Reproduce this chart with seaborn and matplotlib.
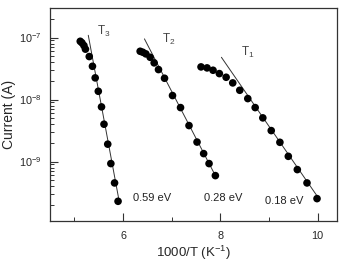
import matplotlib
matplotlib.use('Agg')
import matplotlib.pyplot as plt
import numpy as np
import pandas as pd
import seaborn as sns
from matplotlib.ticker import LogLocator, NullFormatter, FixedLocator

#%% data (x = 1000/T, y = log10 of current)
t3_x = [5.12, 5.155, 5.196, 5.227, 5.305, 5.371, 5.427, 5.491, 5.557, 5.608, 5.685, 5.749, 5.825, 5.897]
t3_logy = [-7.060, -7.085, -7.129, -7.187, -7.306, -7.463, -7.650, -7.866, -8.118, -8.397, -8.719, -9.032, -9.344, -9.640]

t2_x = [6.351, 6.406, 6.468, 6.557, 6.639, 6.728, 6.852, 7.016, 7.181, 7.355, 7.520, 7.656, 7.767, 7.897]
t2_logy = [-7.221, -7.237, -7.263, -7.318, -7.408, -7.516, -7.656, -7.935, -8.129, -8.419, -8.685, -8.871, -9.032, -9.226]

t1_x = [7.602, 7.726, 7.849, 7.979, 8.118, 8.254, 8.398, 8.563, 8.715, 8.872, 9.045, 9.223, 9.396, 9.581, 9.780, 9.986]
t1_logy = [-7.473, -7.489, -7.527, -7.581, -7.640, -7.731, -7.850, -7.984, -8.129, -8.295, -8.500, -8.689, -8.915, -9.129, -9.344, -9.597]

# straight fit lines (end points)
fit_x = {'T3': [5.285, 5.924], 'T2': [6.439, 7.918], 'T1': [8.021, 10.0]}
fit_logy = {'T3': [-6.963, -9.656], 'T2': [-7.021, -9.258], 'T1': [-7.318, -9.569]}

energies = ['0.59 eV', '0.28 eV', '0.18 eV']
energy_x = [6.2, 7.656, 8.907]
energy_logy = [-9.64, -9.64, -9.677]

t_names = ['3', '2', '1']
t_label_x = [5.458, 6.81, 8.427]
t_label_logy = [-6.952, -7.085, -7.302]

df = pd.concat([
    pd.DataFrame({'x': t3_x, 'y': 10.0 ** np.array(t3_logy), 'set': 'T3'}),
    pd.DataFrame({'x': t2_x, 'y': 10.0 ** np.array(t2_logy), 'set': 'T2'}),
    pd.DataFrame({'x': t1_x, 'y': 10.0 ** np.array(t1_logy), 'set': 'T1'}),
])

#%% plot
sns.set_style('ticks')
plt.rcParams['font.family'] = ['Liberation Sans', 'DejaVu Sans']
plt.rcParams['mathtext.fontset'] = 'custom'
plt.rcParams['mathtext.rm'] = 'Liberation Sans'
plt.rcParams['mathtext.it'] = 'Liberation Sans:italic'

fig = plt.figure(figsize=(3.43, 2.66), dpi=100)
ax = fig.add_axes([0.146, 0.169, 0.837, 0.801])

for k in ['T3', 'T2', 'T1']:
    sns.lineplot(x=fit_x[k], y=10.0 ** np.array(fit_logy[k]), ax=ax,
                 color='#333333', lw=0.7)

sns.scatterplot(data=df, x='x', y='y', hue='set', ax=ax,
                palette=['black', 'black', 'black'], s=30,
                edgecolor='black', linewidth=0, legend=False, zorder=3)

ax.set_yscale('log')
ax.set_xlim(4.5, 10.4)
ax.set_ylim(1.1e-10, 3e-7)

ax.xaxis.set_major_locator(FixedLocator([6, 8, 10]))
ax.xaxis.set_minor_locator(FixedLocator([5, 7, 9]))
ax.yaxis.set_major_locator(FixedLocator([1e-9, 1e-8, 1e-7]))
ax.yaxis.set_minor_locator(LogLocator(base=10, subs=np.arange(2, 10)))
ax.yaxis.set_minor_formatter(NullFormatter())
ax.set_yticklabels([r'$10^{-9}$', r'$10^{-8}$', r'$10^{-7}$'])

ax.tick_params(which='major', direction='in', length=5.5, width=0.8,
               labelsize=7.8, pad=7, color='#333333')
ax.tick_params(which='minor', direction='in', length=2.8, width=0.7, color='#333333')
ax.tick_params(axis='y', which='both', right=False, pad=6)
ax.tick_params(axis='x', which='both', top=False)
for s in ax.spines.values():
    s.set_visible(True)
    s.set_linewidth(0.9)
    s.set_color('#333333')

ax.set_xlabel(r'1000/T (K$^{-1}$)', fontsize=9.5, labelpad=2)
ax.set_ylabel('Current (A)', fontsize=10, labelpad=2)

for lab, xx, yy in zip(energies, energy_x, energy_logy):
    ax.text(xx, 10.0 ** yy, lab, fontsize=8, va='baseline', ha='left', color='#222222')

for n, xx, yy in zip(t_names, t_label_x, t_label_logy):
    ax.text(xx, 10.0 ** yy, r'T$_{' + n + '}$', fontsize=8.5, va='baseline',
            ha='left', color='#444444')

fig.savefig('out.png', dpi=100)
